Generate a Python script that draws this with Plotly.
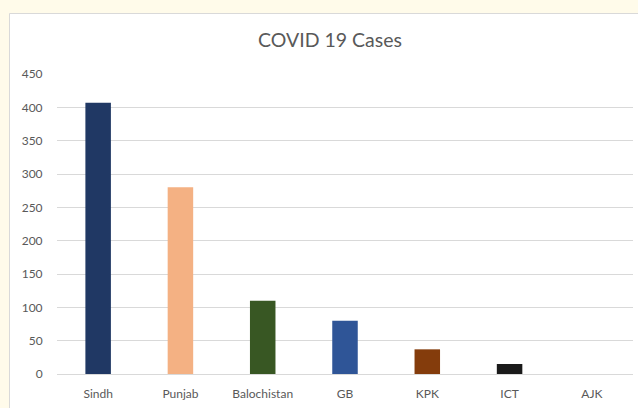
import plotly.graph_objects as go

# Confirmed COVID-19 cases by province / region
regions = ["Sindh", "Punjab", "Balochistan", "GB", "KPK", "ICT", "AJK"]
cases = [407, 280, 110, 80, 37, 15, 0]
bar_colors = ["#203864", "#F4B183", "#385723", "#2F5597", "#843C0C", "#1A1A1A", "#7F7F7F"]
y_ticks = [0, 50, 100, 150, 200, 250, 300, 350, 400, 450]

W, H = 638, 408
ML, MR, MT, MB = 57, 5, 74, 34
PW, PH = W - ML - MR, H - MT - MB

fig = go.Figure(
    go.Bar(
        x=regions,
        y=cases,
        marker=dict(color=bar_colors, line=dict(width=0)),
        hoverinfo="x+y",
    )
)

# white chart panel sitting on the cream page
def px_x(p):
    return (p - ML) / PW

def px_y(p):
    return (H - MB - p) / PH

fig.add_shape(
    type="rect", xref="paper", yref="paper",
    x0=px_x(9.5), x1=px_x(W + 5), y0=px_y(13.5), y1=px_y(H + 5),
    fillcolor="white", line=dict(color="#D9D9D9", width=1), layer="below",
)

fig.update_layout(
    width=W, height=H,
    margin=dict(l=ML, r=MR, t=MT, b=MB),
    paper_bgcolor="#FFFBEA",
    plot_bgcolor="white",
    bargap=0.69,
    showlegend=False,
    font=dict(family="Lato, Open Sans, sans-serif", color="#595959", size=12),
    title=dict(
        text="COVID 19 Cases",
        x=330 / W, xref="container", xanchor="center",
        y=1 - 40 / H, yref="container", yanchor="middle",
        font=dict(size=19.5, color="#595959", family="Lato, Open Sans, sans-serif"),
    ),
    xaxis=dict(
        showgrid=False,
        showline=True, linecolor="#D9D9D9", linewidth=1,
        ticks="outside", ticklen=9, tickcolor="rgba(0,0,0,0)",
        tickfont=dict(size=12, color="#595959"),
        fixedrange=True,
    ),
    yaxis=dict(
        range=[0, 450],
        tickvals=y_ticks,
        showgrid=True, gridcolor="#D9D9D9", gridwidth=1,
        zeroline=False, showline=False,
        ticks="outside", ticklen=11, tickcolor="rgba(0,0,0,0)",
        tickfont=dict(size=12, color="#595959"),
        fixedrange=True,
    ),
)

fig.write_html("out.html")
